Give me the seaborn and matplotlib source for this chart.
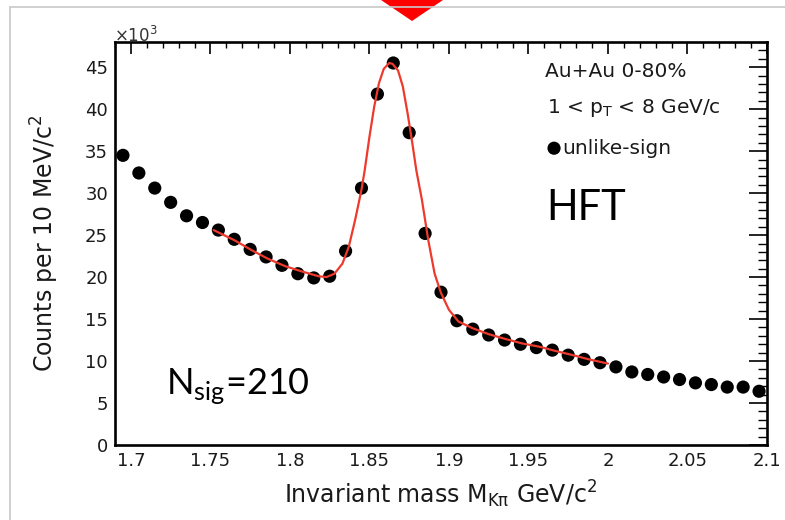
import matplotlib
matplotlib.use("Agg")
import matplotlib.pyplot as plt
from matplotlib.ticker import FixedLocator, FixedFormatter, MultipleLocator
from matplotlib.patches import Polygon
from matplotlib.lines import Line2D
import pandas as pd
import seaborn as sns

# K-pi invariant mass spectrum, 10 MeV bins (counts in units of 10^3)
mass_bins = [1.695, 1.705, 1.715, 1.725, 1.735, 1.745, 1.755, 1.765, 1.775, 1.785,
             1.795, 1.805, 1.815, 1.825, 1.835, 1.845, 1.855, 1.865, 1.875, 1.885,
             1.895, 1.905, 1.915, 1.925, 1.935, 1.945, 1.955, 1.965, 1.975, 1.985,
             1.995, 2.005, 2.015, 2.025, 2.035, 2.045, 2.055, 2.065, 2.075, 2.085,
             2.095]
counts = [34.5, 32.4, 30.6, 28.9, 27.3, 26.5, 25.6, 24.5, 23.3, 22.4,
          21.4, 20.4, 19.9, 20.1, 23.1, 30.6, 41.8, 45.5, 37.2, 25.2,
          18.2, 14.8, 13.8, 13.1, 12.5, 12.0, 11.6, 11.3, 10.7, 10.2,
          9.8, 9.3, 8.7, 8.4, 8.1, 7.8, 7.4, 7.2, 6.9, 6.9,
          6.4]

# signal + background fit curve
fit_mass = [1.752, 1.765, 1.776, 1.786, 1.797, 1.807, 1.818, 1.823, 1.828, 1.833,
            1.837, 1.841, 1.845, 1.847, 1.850, 1.853, 1.856, 1.859, 1.8625, 1.8645,
            1.868, 1.871, 1.874, 1.877, 1.8795, 1.883, 1.887, 1.891, 1.895, 1.900,
            1.906, 1.915, 1.925, 1.936, 1.946, 1.957, 1.967, 1.978, 1.988, 2.000]
fit_counts = [25.6, 24.4, 23.2, 22.2, 21.3, 20.7, 20.1, 20.0, 20.4, 21.6,
              23.6, 26.8, 30.4, 32.7, 36.7, 40.3, 43.1, 44.8, 45.5, 45.4,
              44.6, 42.7, 39.5, 35.9, 32.7, 29.2, 24.4, 20.4, 18.1, 16.1,
              14.7, 13.9, 13.2, 12.6, 12.1, 11.7, 11.2, 10.7, 10.2, 9.7]

x_ticks = [1.7, 1.75, 1.8, 1.85, 1.9, 1.95, 2.0, 2.05, 2.1]
x_tick_labels = ["1.7", "1.75", "1.8", "1.85", "1.9", "1.95", "2", "2.05", "2.1"]
y_ticks = [0, 5, 10, 15, 20, 25, 30, 35, 40, 45]
y_tick_labels = ["0", "5", "10", "15", "20", "25", "30", "35", "40", "45"]

W, H = 785, 520
AX_L, AX_R, AX_T, AX_B = 115, 767, 42, 445
TXT = "#1a1a1a"

sns.set_theme(style="white")
plt.rcParams["font.family"] = ["DejaVu Sans"]
plt.rcParams["axes.edgecolor"] = "black"

fig = plt.figure(figsize=(W / 100, H / 100), dpi=100)
fig.patch.set_facecolor("white")
ax = fig.add_axes([AX_L / W, 1 - AX_B / H, (AX_R - AX_L) / W, (AX_B - AX_T) / H])


def ax_frac(px, py):
    return ((px - AX_L) / (AX_R - AX_L), (AX_B - py) / (AX_B - AX_T))


df = pd.DataFrame({"mass": mass_bins, "counts": counts})
fit = pd.DataFrame({"mass": fit_mass, "counts": fit_counts})

sns.scatterplot(data=df, x="mass", y="counts", s=90, color="black",
                edgecolor="none", ax=ax, zorder=3, label="unlike-sign")
sns.lineplot(data=fit, x="mass", y="counts", color="#ee3a2c", lw=1.6,
             ax=ax, zorder=4, sort=False, estimator=None, legend=False)

ax.set_xlim(1.69, 2.10)
ax.set_ylim(0, 48)

ax.xaxis.set_major_locator(FixedLocator(x_ticks))
ax.xaxis.set_major_formatter(FixedFormatter(x_tick_labels))
ax.xaxis.set_minor_locator(MultipleLocator(0.01))
ax.yaxis.set_major_locator(FixedLocator(y_ticks))
ax.yaxis.set_major_formatter(FixedFormatter(y_tick_labels))
ax.yaxis.set_minor_locator(MultipleLocator(1))

ax.tick_params(which="both", direction="in", top=True, right=True,
               color="black", labelcolor=TXT, labelsize=13)
ax.tick_params(axis="x", which="major", length=8.6, width=1.2, pad=5)
ax.tick_params(axis="x", which="minor", length=4.3, width=1.0)
ax.tick_params(axis="y", which="major", length=13, width=1.2, pad=5)
ax.tick_params(axis="y", which="minor", length=6.5, width=1.0)
for sp in ax.spines.values():
    sp.set_linewidth(1.9)
    sp.set_color("black")

ax.set_xlabel(r"Invariant mass M$_{\mathregular{K\pi}}$ GeV/c$^{\mathregular{2}}$",
              fontsize=17, color=TXT, va="baseline")
ax.xaxis.set_label_coords(0.5, ax_frac(0, 503)[1])
ax.set_ylabel(r"Counts per 10 MeV/c$^{\mathregular{2}}$", fontsize=17,
              color=TXT, va="center")
ax.yaxis.set_label_coords(ax_frac(45, 0)[0], 0.5)

ax.text(*ax_frac(114, 42), r"×10$^{\mathregular{3}}$", transform=ax.transAxes,
        fontsize=12, color="#333333", va="baseline", ha="left")

ax.text(*ax_frac(545, 77), "Au+Au 0-80%", transform=ax.transAxes,
        fontsize=14.5, color=TXT, va="baseline", ha="left")
ax.text(*ax_frac(547, 113), r"1 < p$_{\mathregular{T}}$ < 8 GeV/c",
        transform=ax.transAxes, fontsize=14.5, color=TXT, va="baseline", ha="left")
ax.legend(loc="center left", bbox_to_anchor=ax_frac(549, 148), frameon=False,
          borderpad=0, borderaxespad=0, handlelength=0.5, handletextpad=0.15,
          fontsize=14.5, labelcolor=TXT)

ax.text(*ax_frac(546, 220), "HFT", transform=ax.transAxes, family="Lato",
        fontsize=30, color="black", va="baseline", ha="left")
ax.text(*ax_frac(166, 394), r"N$_{\mathregular{sig}}$=210", transform=ax.transAxes,
        family="Lato", fontsize=26, color="black", va="baseline", ha="left")

# slide frame edges and the pointer marker at the top
fig.add_artist(Line2D([10 / W, 1.0], [1 - 7 / H, 1 - 7 / H], transform=fig.transFigure,
                      color="#c8c8c8", lw=1.2))
fig.add_artist(Line2D([10 / W, 10 / W], [1 - 7 / H, 0.0], transform=fig.transFigure,
                      color="#c8c8c8", lw=1.2))
fig.patches.append(Polygon([(381 / W, 1.0), (443 / W, 1.0), (412 / W, 1 - 21 / H)],
                           closed=True, transform=fig.transFigure,
                           facecolor="#ff0000", edgecolor="none"))

fig.savefig("out.png", dpi=100, facecolor="white")
